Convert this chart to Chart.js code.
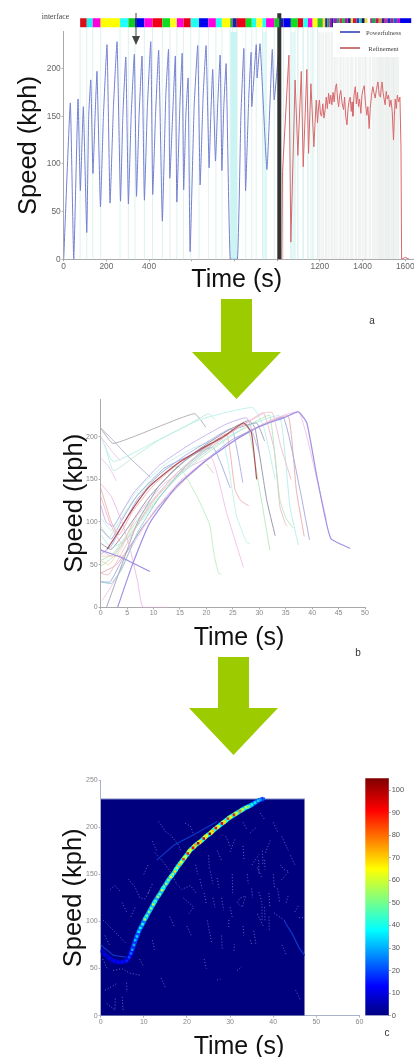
<!DOCTYPE html>
<html>
<head>
<meta charset="utf-8">
<script src="https://cdn.jsdelivr.net/npm/chart.js@4"></script>
<style>
  body { margin: 0; background: #fff; overflow: hidden; }
  #page { position: relative; width: 414px; height: 1057px; overflow: hidden; filter: blur(0.3px); }
  canvas { position: absolute; }
  .txt { position: absolute; white-space: nowrap; transform: translate(-50%, -50%); font-family: "Liberation Sans", Arial, sans-serif; }
  .serif { font-family: "Liberation Serif", serif; color: #444; }
  #legendBox { position: absolute; left: 333px; top: 22.5px; width: 81px; height: 34px; background: #fff; }
  .key { position: absolute; height: 1.5px; width: 20px; left: 340px; }
  svg { position: absolute; left: 0; top: 0; }
</style>
</head>
<body>
<div id="page">
  <canvas id="chartA" width="414" height="275" style="left:0;top:0"></canvas>
  <canvas id="chartB" width="380" height="225" style="left:0;top:392px"></canvas>
  <canvas id="chartC" width="375" height="255" style="left:0;top:772px"></canvas>
  <canvas id="chartBar" width="59" height="255" style="left:355px;top:772px"></canvas>
  <svg width="414" height="1057">
    <polygon points="221,299 252,299 252,352 281,352 236.5,399 192,352 221,352" fill="#9ccc00"/>
    <polygon points="218,657 249,657 249,708 278,708 233.5,755 189,708 218,708" fill="#9ccc00"/>
    <line x1="136" y1="13" x2="136" y2="38" stroke="#444" stroke-width="1"/>
    <polygon points="132,36 140,36 136,45" fill="#444"/>
  </svg>
  <div id="legendBox"></div>
  <div class="key" style="top:31px;background:#5a68c8"></div>
  <div class="key" style="top:47px;background:#cc7777"></div>
  <div class="txt serif" style="left:55.5px;top:16px;font-size:7.8px">interface</div>
  <div class="txt serif" style="left:383.5px;top:31.5px;font-size:6.5px">Powerfulness</div>
  <div class="txt serif" style="left:383.5px;top:47.5px;font-size:6.5px">Refinement</div>
  <div class="txt" style="left:236.7px;top:278px;font-size:25px;color:#111">Time (s)</div>
  <div class="txt" style="left:239px;top:636px;font-size:25px;color:#111">Time (s)</div>
  <div class="txt" style="left:239px;top:1045px;font-size:25px;color:#111">Time (s)</div>
  <div class="txt" style="left:372px;top:320px;font-size:10px;color:#333">a</div>
  <div class="txt" style="left:358px;top:652px;font-size:10px;color:#333">b</div>
  <div class="txt" style="left:387px;top:1032px;font-size:10px;color:#333">c</div>
</div>

<script>
// panel a: speed trace, blue part then red part
const blueTime = [0,31,47,67,78,92,108,117,127,137,147,156,172,186,203,217,233,250,266,277,291,303,316,331,341,353,367,378,392,408,417,430,445,462,478,491,497,513,523,530,544,555,562,572,583,592,611,628,639,653,667,681,689,698,711,722,733,741,750,761,780,814,830,844,852,867,878,881,902,906,920,952,977,986,1006];
const blueSpeed = [0,164,0,168,72,160,28,150,188,90,150,197,55,150,225,59,160,228,61,150,212,58,150,215,66,150,213,62,160,228,68,150,219,40,170,220,85,165,213,60,160,216,73,150,190,8,160,224,78,170,224,96,150,199,103,165,214,93,160,205,0,0,150,221,72,170,217,160,225,190,226,94,220,167,216];
const redTime = [1022,1025,1055,1064,1084,1097,1113,1122,1139,1147,1158,1172,1183,1189,1194,1198,1203,1208,1214,1219,1225,1230,1235,1241,1246,1251,1256,1262,1267,1273,1278,1283,1288,1293,1298,1304,1311,1316,1321,1327,1332,1337,1342,1347,1351,1355,1360,1366,1371,1376,1381,1386,1392,1397,1402,1408,1413,1420,1425,1431,1436,1442,1448,1453,1459,1465,1472,1478,1484,1488,1491,1496,1501,1506,1511,1516,1522,1527,1533,1539,1545,1549,1553,1558,1563,1569,1575,1580,1583,1600,1620];
const redSpeed = [0,92,214,18,188,109,197,97,199,111,184,118,167,143,160,167,152,150,163,148,157,170,158,174,163,172,162,175,165,180,184,168,160,172,177,164,157,170,150,141,158,166,170,155,165,150,172,181,163,175,160,168,153,172,178,182,165,151,160,137,158,172,181,175,169,178,186,172,170,182,186,175,168,162,176,168,172,160,167,155,125,150,168,158,172,165,170,118,0,2,0];
const stripEdges = [77,108,136,173,264,303,334,378,416,462,498,530,561,595,634,678,713,741,780,791,811,853,881,902,931,948,986,1011,1030,1064,1097,1122,1144,1166,1189,1214,1225,1235,1245,1253,1264,1280,1292,1304,1318,1330,1345,1355,1372,1385,1396,1410,1424,1436,1444,1462,1476,1490,1504,1516,1532,1545,1562,1575,1628];
const stripColors = ['#d81018','#22eeee','#ff00dd','#ffff00','#22ffff','#10cc20','#0000ee','#ff00dd','#ee0018','#10dd20','#ffff20','#ff00dd','#e80018','#22ffee','#0000ee','#ff00dd','#22ffee','#ffff00','#30b040','#2020a0','#ee0018','#10dd20','#22ffee','#ffff20','#22ffee','#ff00dd','#20c030','#202080','#0000ee','#10dd20','#ee0018','#22ffee','#ff00dd','#ffff00','#30c030','#ffdd20','#2020c0','#20a040','#d000c0','#202090','#9020c0','#20a060','#e02060','#10c040','#c000b0','#202090','#e0e020','#d01040','#2040c0','#20c0a0','#101060','#e0e040','#ffffff','#b02080','#20a060','#d01050','#c0a030','#302090','#e020a0','#1030c0','#a02090','#2060c0','#d000d0','#0000e8'];
const gearTimes = [1189,1172,1158,1144,1122,1097,1084];
const denseTimes = [1192,1198,1205,1211,1218,1226,1232,1239,1247,1255,1261,1268,1275,1281,1290,1297,1303,1311,1318,1327,1333,1342,1349,1355,1366,1372,1381,1387,1392,1401,1408,1414,1420,1431,1438,1448,1454,1459,1466,1472,1476,1480,1484,1488,1491,1496,1500,1506,1510,1514,1518,1522,1527,1533,1537,1541,1545,1549,1553,1558,1563,1569];
const bandStarts = [780,930,1061];
const bandEnds = [814,952,1084];
const splitTime = 1010;
const xTickLabelsA = [0,200,400,1200,1400,1600];

// panel b: one curve per acceleration
const curvePoints = [
  [[0,210],[2.4,192],[17.7,227],[19.9,211]],
  [[0,210],[2,198],[5,178],[9.3,153]],
  [[0.8,190],[2.4,160],[6,175],[11,196],[16,212],[20.4,227],[21.6,220]],
  [[0,200],[2.4,171],[9.3,191],[18.8,220],[28.7,234],[30.8,212],[33,150]],
  [[0,200],[2.5,180],[3.7,172]],
  [[0,175],[1.5,165],[3,148]],
  [[20,168],[21.4,157]],
  [[0,95],[1.6,82],[3,95],[6,124],[10,150],[13,165],[15,164],[18.2,130],[20.6,97],[21.5,60],[22.3,40],[22.8,39]],
  [[0,68],[2,60],[4,74],[7,108],[12,145],[17,165],[21,175],[23.8,111],[27,47]],
  [[0,92],[2,80],[4,102],[7,132],[12,163],[17,178],[21.3,187],[24.5,140]],
  [[0,105],[2,90],[4,112],[8,145],[13,171],[18,188],[23,197],[25.7,107],[27.6,76],[28.2,75]],
  [[0,140],[2,100],[3.5,85],[6,112],[10,143],[15,170],[20,188],[23.8,203],[25.4,138],[26.5,125],[28,119]],
  [[0,62],[2,72],[4,95],[7,127],[11,155],[16,178],[21,197],[24.8,209],[26.9,146]],
  [[0,55],[2.2,62],[5,85],[9,120],[14,155],[19,182],[24,203],[27.6,215],[30,140],[32,67]],
  [[0,75],[2,68],[5,92],[9,128],[14,162],[19,187],[24,207],[28,219],[29.2,210],[31.4,126],[33,84]],
  [[0,130],[2,95],[4,75],[6,88],[10,125],[15,158],[20,183],[25,207],[28.5,220],[30.8,228],[32.8,185],[33.9,118],[35,97],[35.3,95]],
  [[0,48],[2.5,60],[6,90],[10,122],[15,155],[20,180],[25,202],[30,220],[32,225],[33.9,126],[35,105],[36.4,93]],
  [[0,85],[2,70],[5,80],[9,112],[14,150],[19,178],[25,203],[30,218],[33.9,224],[35.8,118],[37.4,73]],
  [[0,40],[3,50],[7,85],[11,118],[16,150],[21,177],[27,203],[32,218],[35.5,224],[37,138],[38.5,83]],
  [[0,30],[1.8,30],[4,55],[8,95],[13,133],[19,168],[25,197],[31,214],[34.6,222],[37.7,138],[39.5,79]],
  [[0.3,8],[3,35],[6,72],[10,112],[15,148],[20,173],[26,198],[32,219],[37.4,229],[39,200],[40.9,150],[42.7,103]],
  [[1.1,0],[4,50],[7,100],[11,142],[16,172],[21,192],[26,210],[29.5,216],[31,195]],
  [[0,145],[2,130],[4,100],[5.5,70],[7,30],[8,0],[12.6,0]],
  [[0,60],[4.5,60]],
  [[0,55],[1.5,50],[4,70],[6,100]],
  [[0,120],[1,100],[2.4,95],[6.2,134],[11.2,167],[16.9,191],[23.5,214],[27.6,222],[29,200],[30,180]],
  [[0,30],[2,28],[4,45],[7,88],[11,128],[16,165],[21,190]],
  [[0,40],[1.5,38],[5,75],[9,118],[14,155],[19,182],[26,210],[31,228],[32.5,228],[34,190],[36,150]],
  [[1.2,68],[3,85],[5.9,114],[9.3,142],[14.4,168],[18.8,185],[23.2,200],[27,216],[28.5,205],[29.5,150]],
  [[0,67],[3.7,59],[9.3,42]],
  [[3.2,0],[6,50],[9.3,99],[14.4,142],[19.7,171],[25.7,197],[30,212],[34.6,222],[37.4,229],[39,216],[41,150],[43.5,81],[47.2,69]]
];
const curveColors = ['#b0a8b0','#b0b0c8','#bcecd4','#b8f0ea','#eec4ea','#eec4ea','#c8d4b4','#bcecc4','#eec0ea','#a0aae0','#c0f0ec','#eeb0b0','#a8ace8','#b4e8c0','#9090a4','#eeb8cc','#b4e8c0','#b8ece6','#e8aaaa','#a0a6e0','#eec0ea','#a0a0b4','#eeb8ea','#eed4b0','#eed4b0','#c4b0ec','#90c8c8','#eec0cc','#b05058','#9c8ce4','#a090e6'];

// panel c: density along the ridge, count per cell
const ridgeTime = [0,1,2,3,4,5,6,6.6,7,7.3,7.7,8,8.4,8.8,9.2,9.7,10.2,10.7,11.2,11.7,12.2,12.7,13.2,13.7,14.2,14.7,15.2,15.7,16.2,16.7,17.2,17.7,18.2,18.7,19.2,19.7,20.2,20.8,21.4,22,22.6,23.2,23.9,24.6,25.3,26,26.7,27.4,28.1,28.8,29.5,30.2,30.9,31.6,32.3,33,33.7,34.4,35.1,35.8,36.5,37,37.8];
const ridgeSpeed = [69,65,61,58,57,57,58,62,66,70,75,80,84,89,93,97,102,106,110,114,118,122,126,129,133,137,140,144,147,150,153,157,160,163,166,169,172,176,178,181,183,185,188,191,193,196,199,201,204,206,209,211,213,215,217,219,221,222,224,226,228,229,230];
const ridgeCount = [10,11,12,13,13,14,16,20,24,28,30,32,34,36,38,42,55,48,52,50,58,46,54,50,60,48,56,52,62,55,68,60,72,65,85,62,90,66,92,74,98,70,94,66,100,72,90,62,92,68,85,64,88,60,78,58,62,50,40,36,34,30,22];
const speckleTrails = [
  [[13.4,206],[14.2,201],[15,195],[16.1,192],[17,187],[18,181],[18.8,174]],
  [[19.6,204],[20.8,201],[21.4,194],[22.3,190]],
  [[12.6,173],[13.8,167],[15,160],[16.1,153],[17.7,139],[18.8,134],[20.8,138],[22.3,129]],
  [[2.2,134],[3.3,138],[4.5,132]],
  [[6.4,145],[8,136],[9.1,125],[10.3,124],[11.5,134]],
  [[0.6,101],[2.2,94],[3.7,87],[6,76]],
  [[2.9,48],[4.9,50],[6.8,45],[9.1,43]],
  [[1,27],[2.6,31],[3.7,34]],
  [[1.4,13],[3.3,6],[3.4,20]],
  [[27,38],[27.8,39]],
  [[30.9,69],[31,76]],
  [[29.7,94],[29.7,102]],
  [[24.7,101],[25.8,76]],
  [[34.7,80],[35,76]],
  [[31.6,120],[32.4,125],[33.6,127],[32.8,115],[31.6,120]],
  [[36.7,131],[37.4,120],[37.4,100]],
  [[36.3,157],[37.4,146]],
  [[38.2,173],[39.4,187]],
  [[41.7,160],[42.5,155],[43.6,153],[41.7,143]],
  [[40.2,109],[41.7,104],[43,100]],
  [[46,104],[47.1,104]],
  [[45.2,27],[46.4,16]],
  [[31.6,48],[32.8,52]],
  [[30,174],[31.2,188]],
  [[34.7,194],[35.9,199]],
  [[35.1,160],[36.7,171]],
  [[27,146],[27.4,136]],
  [[25.4,153],[26,140]],
  [[19.2,125],[21.6,115],[20.4,108]],
  [[36.3,108],[37.8,94]],
  [[25,170],[25.2,155]],
  [[30.5,150],[30.6,130]],
  [[39,130],[39.2,115]],
  [[33,180],[33.2,165]],[[34,150],[34.2,140]],[[35,135],[35.2,125]],[[38,165],[38.1,155]],
  [[37.5,175],[37.6,160]],[[36.6,165],[36.7,150]],[[40,150],[40.3,135]],[[41,135],[41.5,120]],
  [[43,120],[43.5,128]],[[45,110],[46,118]],[[38,115],[38.1,100]],[[39,105],[39.1,90]],
  [[33,95],[33.2,85]],[[35.5,90],[36,75]],[[42,75],[43,65]],[[30,115],[30.5,105]],
  [[28,125],[28.5,112]],[[26,125],[26.5,115]],[[24,130],[24.5,118]],[[23,145],[23.5,135]],
  [[22,160],[22.5,150]],[[27,175],[28,165]],[[29,190],[30,180]],[[33,205],[34,197]],
  [[37,215],[38,208]],[[40,205],[41,195]],[[42,190],[43.5,175]],[[44,170],[45,160]],
  [[28,85],[28.2,70]],[[24,60],[24.5,50]],[[20,95],[21,85]],[[16,105],[17,95]],
  [[12,80],[12.5,70]],[[9,60],[10,52]],[[14,40],[15,30]],[[5,20],[5.2,5]],
  [[6,35],[6.1,25]],[[0.5,60],[1.5,50]],[[1,85],[2,75]],[[7,105],[8,115]],
  [[5,120],[6,110]],[[10,150],[11,160]],[[12,185],[13,175]],[[11,130],[12,140]]
];
const faintTrails = [
  [[13,165],[17,181],[22,193],[27,206]],
  [[42.5,101],[44.5,86],[46,72],[47.3,64]],
  [[0,75],[3,64],[6,62]]
];
const heatEndTime = 47.3;
const heatEndSpeed = 230;
const colorScaleMax = 105.2;

// jet colormap, count -> colour
const jetStops = [[0,[0,0,127]],[13,[0,0,255]],[38,[0,255,255]],[65,[255,255,0]],[91,[255,0,0]],[105.2,[127,0,0]]];

function jet(v) {
  for (let i = 1; i < jetStops.length; i++) {
    if (v <= jetStops[i][0]) {
      const a = jetStops[i-1], b = jetStops[i];
      const f = (v - a[0]) / (b[0] - a[0]);
      const c = a[1].map((n, k) => Math.round(n + (b[1][k] - n) * f));
      return 'rgb(' + c.join(',') + ')';
    }
  }
  return 'rgb(127,0,0)';
}

function zip(xs, ys) { return xs.map((x, i) => ({x: x, y: ys[i]})); }
function pairs(list) { return list.map(p => ({x: p[0], y: p[1]})); }

function verticals(times, top) {
  const out = [];
  times.forEach(t => { out.push({x: t, y: 0}, {x: t, y: top}, {x: t, y: null}); });
  return out;
}

function line(data, color, width, extra) {
  return Object.assign({data: data, borderColor: color, borderWidth: width, showLine: true, pointRadius: 0, tension: 0}, extra || {});
}

// fixed box size so the plot area lands on known pixels
function xAxis(min, max, step, height, fontSize, color, tickColor, labels) {
  return {
    type: 'linear', min: min, max: max,
    border: {color: color},
    grid: {drawOnChartArea: false, tickLength: 2, color: color},
    ticks: {
      stepSize: step, includeBounds: false, maxRotation: 0, autoSkip: false, padding: 0,
      font: {family: 'Liberation Sans', size: fontSize}, color: tickColor,
      callback: v => (!labels || labels.includes(v)) ? v : ''
    },
    afterFit: s => { s.height = height; s.paddingLeft = 0; s.paddingRight = 0; }
  };
}

function yAxis(max, step, width, fontSize, color, tickColor, titlePad) {
  return {
    type: 'linear', min: 0, max: max,
    border: {color: color},
    grid: {drawOnChartArea: false, tickLength: 2, color: color},
    title: {display: true, text: 'Speed (kph)', color: '#111', padding: {top: titlePad, bottom: 0},
            font: {family: 'Liberation Sans', size: 25.5, weight: 'normal'}},
    ticks: {stepSize: step, includeBounds: false, padding: 1,
            font: {family: 'Liberation Sans', size: fontSize}, color: tickColor},
    afterFit: s => { s.width = width; s.paddingTop = 0; s.paddingBottom = 0; }
  };
}

const baseOptions = {responsive: false, animation: false, plugins: {legend: {display: false}, tooltip: {enabled: false}}};

// panel a, pushed back to front
const barTop = 258, gearTop = 244, stripLevel = 248;
const aSets = [];
bandStarts.forEach((s, i) => {
  aSets.push(line([{x: s, y: gearTop}, {x: bandEnds[i], y: gearTop}], 'rgba(0,0,0,0)', 0,
    {fill: 'origin', backgroundColor: i == 0 ? '#c8f5f5' : '#e4fafa', clip: false}));
});
aSets.push(line(verticals(stripEdges.filter(t => t < 1190).concat(gearTimes), gearTop), '#d6f0ec', 0.8, {clip: false}));
aSets.push(line(verticals(denseTimes, gearTop - 6), '#e4eae7', 0.7));
aSets.push(line(zip(blueTime, blueSpeed), '#7480d0', 1, {tension: 0.12}));
aSets.push(line(zip(redTime, redSpeed), '#d8686c', 1));
aSets.push(line([{x: splitTime, y: 0}, {x: splitTime, y: barTop}], '#333333', 4, {clip: false}));
aSets.push(line(stripEdges.map(t => ({x: t, y: stripLevel})), '#000', 9, {
  clip: false,
  borderCapStyle: 'butt',
  segment: {borderColor: c => stripColors[c.p0DataIndex]}
}));

new Chart(document.getElementById('chartA'), {
  type: 'scatter',
  data: {datasets: aSets.reverse()},
  options: Object.assign({}, baseOptions, {
    layout: {padding: {top: 31.7, right: 0, left: 0, bottom: 0}},
    scales: {
      x: xAxis(0, 1641, 200, 15.7, 8.4, '#aaaaaa', '#666', xTickLabelsA),
      y: yAxis(238.6, 50, 63.7, 8.4, '#aaaaaa', '#666', 14)
    }
  })
});

// panel b
new Chart(document.getElementById('chartB'), {
  type: 'scatter',
  data: {
    datasets: curvePoints.map((c, i) => line(pairs(c), curveColors[i], (i >= 28) ? 1.2 : 0.9, {tension: 0.15})).reverse()
  },
  options: Object.assign({}, baseOptions, {
    layout: {padding: {top: 7.3, right: 15, left: 0, bottom: 0}},
    scales: {
      x: xAxis(0, 50, 5, 9.7, 7, '#aaaaaa', '#888'),
      y: yAxis(243.8, 50, 100.7, 7, '#aaaaaa', '#888', 59.7)
    }
  })
});

// panel c, pushed back to front
const cSets = [];
cSets.push(line([{x: 0, y: heatEndSpeed}, {x: heatEndTime, y: heatEndSpeed}], '#b8c4e0', 1, {
  fill: 'origin', backgroundColor: '#00007f'
}));
speckleTrails.forEach(t => cSets.push(line(pairs(t), '#6474c8', 0.9, {borderDash: [1, 2]})));
faintTrails.forEach(t => cSets.push(line(pairs(t), '#0c38c8', 1.2)));
cSets.push(line(zip(ridgeTime, ridgeSpeed), '#0a50e0', 4.5, {
  segment: {borderColor: c => jet(ridgeCount[c.p0DataIndex] * 0.6)}
}));
cSets.push({
  data: zip(ridgeTime, ridgeSpeed),
  showLine: false,
  pointStyle: 'rect',
  pointRadius: 1.8,
  borderWidth: 0,
  backgroundColor: ridgeCount.map(jet)
});

new Chart(document.getElementById('chartC'), {
  type: 'scatter',
  data: {datasets: cSets.reverse()},
  options: Object.assign({}, baseOptions, {
    layout: {padding: {top: 8, right: 15.5, left: 0, bottom: 0}},
    scales: {
      x: xAxis(0, 60, 10, 11.3, 7, '#aab4c8', '#888'),
      y: yAxis(250, 50, 100.7, 7, '#aab4c8', '#888', 58.7)
    }
  })
});

// colorbar next to panel c
new Chart(document.getElementById('chartBar'), {
  type: 'bar',
  data: {
    labels: [''],
    datasets: [{
      data: [[0, colorScaleMax]],
      barPercentage: 1,
      categoryPercentage: 1,
      backgroundColor: c => {
        const area = c.chart.chartArea;
        if (!area) return '#000';
        const g = c.chart.ctx.createLinearGradient(0, area.bottom, 0, area.top);
        jetStops.forEach(s => g.addColorStop(s[0] / colorScaleMax, 'rgb(' + s[1].join(',') + ')'));
        return g;
      }
    }]
  },
  options: Object.assign({}, baseOptions, {
    layout: {padding: {top: 6.3, right: 0, left: 10.3, bottom: 11.3}},
    scales: {
      x: {display: false},
      y: {
        position: 'right', min: 0, max: colorScaleMax,
        border: {color: '#aaaaaa'},
        grid: {drawOnChartArea: false, tickLength: 2, color: '#aaaaaa'},
        ticks: {stepSize: 10, includeBounds: false, padding: 1,
                font: {family: 'Liberation Sans', size: 7.5}, color: '#555'},
        afterFit: s => { s.width = 25.3; s.paddingTop = 0; s.paddingBottom = 0; }
      }
    }
  })
});
</script>
</body>
</html>
